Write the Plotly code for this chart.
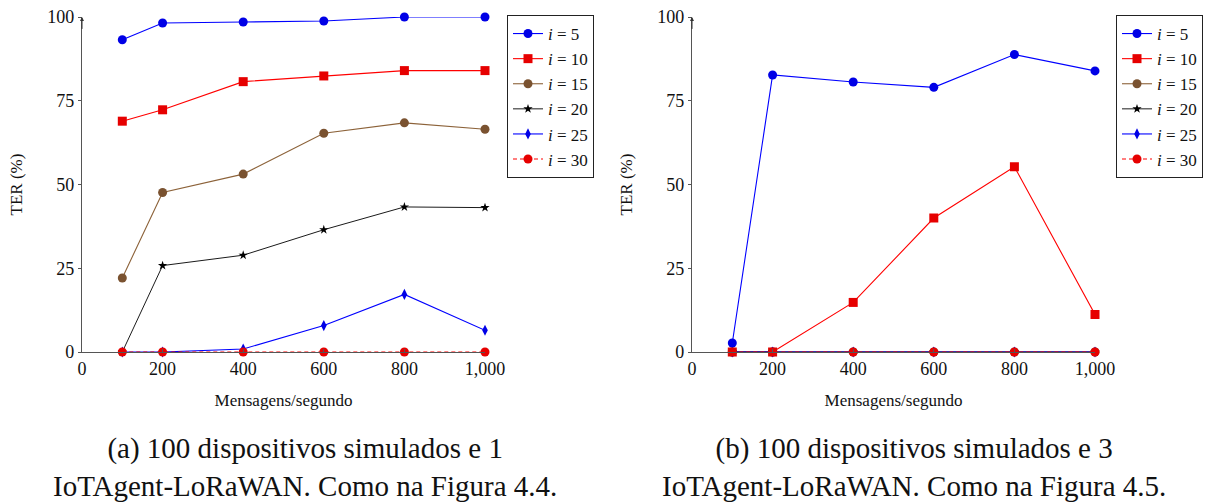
import plotly.graph_objects as go

x_msgs = [100, 200, 400, 600, 800, 1000]
series_names = ["<i>i</i> = 5", "<i>i</i> = 10", "<i>i</i> = 15", "<i>i</i> = 20", "<i>i</i> = 25", "<i>i</i> = 30"]

# (a) 1 IoTAgent
a_i5 = [93.2, 98.2, 98.5, 98.8, 100, 100]
a_i10 = [68.9, 72.3, 80.7, 82.4, 84.0, 84.0]
a_i15 = [22.1, 47.6, 53.1, 65.3, 68.4, 66.5]
a_i20 = [0, 25.8, 28.9, 36.5, 43.3, 43.1]
a_i25 = [0, 0, 0.9, 7.9, 17.2, 6.5]
a_i30 = [0, 0, 0, 0, 0, 0]

# (b) 3 IoTAgents
b_i5 = [2.7, 82.7, 80.6, 79.0, 88.8, 83.9]
b_i10 = [0, 0, 14.8, 40.0, 55.3, 11.2]
b_i15 = [0, 0, 0, 0, 0, 0]
b_i20 = [0, 0, 0, 0, 0, 0]
b_i25 = [0, 0, 0, 0, 0, 0]
b_i30 = [0, 0, 0, 0, 0, 0]

x_ticks = [0, 200, 400, 600, 800, 1000]
x_tick_labels = ["0", "200", "400", "600", "800", "1,000"]
y_ticks = [0, 25, 50, 75, 100]

captions = ["(a) 100 dispositivos simulados e 1<br>IoTAgent-LoRaWAN. Como na Figura 4.4.",
            "(b) 100 dispositivos simulados e 3<br>IoTAgent-LoRaWAN. Como na Figura 4.5."]

styles = [
    dict(line=dict(color="#0000ff", width=1.1), marker=dict(symbol="circle", size=9, color="#0000e6")),
    dict(line=dict(color="#ff0000", width=1.1), marker=dict(symbol="square", size=9, color="#e60000")),
    dict(line=dict(color="#8c6239", width=1.1), marker=dict(symbol="circle", size=9, color="#7a5230")),
    dict(line=dict(color="#000000", width=0.9), marker=dict(symbol="star", size=7, color="#000000")),
    dict(line=dict(color="#0000ff", width=1.1), marker=dict(symbol="diamond-tall", size=8, color="#0000e6")),
    dict(line=dict(color="#ff0000", width=1.1, dash="4px,3px"), marker=dict(symbol="circle", size=9, color="#e60000")),
]

serif = "Liberation Serif"
fig = go.Figure()

panels = [
    ("x", "y", "legend", [a_i5, a_i10, a_i15, a_i20, a_i25, a_i30]),
    ("x2", "y2", "legend2", [b_i5, b_i10, b_i15, b_i20, b_i25, b_i30]),
]
for xa, ya, lg, data in panels:
    for name, vals, st in zip(series_names, data, styles):
        fig.add_trace(go.Scatter(
            x=x_msgs, y=vals, mode="lines+markers", name=name,
            line=st["line"], marker=st["marker"], xaxis=xa, yaxis=ya,
            legend=lg, cliponaxis=False,
        ))

W, H = 1218, 504
dom_y = [1 - 352 / H, 1 - 17 / H]
axcommon_x = dict(range=[0, 1000], tickvals=x_ticks, ticktext=x_tick_labels,
                  showgrid=False, zeroline=False, showline=True, linecolor="#555555",
                  linewidth=1.3, ticks="inside", ticklen=3, tickcolor="#555555",
                  automargin=False,
                  tickfont=dict(family=serif, size=18, color="#111"),
                  title=dict(text="Mensagens/segundo", font=dict(family=serif, size=17, color="#111"), standoff=16))
axcommon_y = dict(range=[0, 100], tickvals=y_ticks, showgrid=False, zeroline=False,
                  showline=True, linecolor="#555555", linewidth=1.3, ticks="outside",
                  ticklen=3, tickcolor="#555555", automargin=False,
                  tickfont=dict(family=serif, size=18, color="#111"),
                  title=dict(text="TER (%)", font=dict(family=serif, size=17, color="#111"), standoff=20))

leg = dict(yanchor="top", xanchor="left", bordercolor="#222", borderwidth=1, bgcolor="white",
           font=dict(family=serif, size=17, color="#111"), tracegroupgap=0, itemwidth=30)

fig.update_layout(
    width=W, height=H,
    margin=dict(l=0, r=0, t=0, b=0, autoexpand=False),
    paper_bgcolor="white", plot_bgcolor="white",
    xaxis=dict(domain=[82 / W, 485 / W], anchor="y", **axcommon_x),
    yaxis=dict(domain=dom_y, anchor="x", **axcommon_y),
    xaxis2=dict(domain=[692 / W, 1095 / W], anchor="y2", **axcommon_x),
    yaxis2=dict(domain=dom_y, anchor="x2", **axcommon_y),
    legend=dict(x=507 / W, y=1 - 15 / H, **leg),
    legend2=dict(x=1116 / W, y=1 - 15 / H, **leg),
    showlegend=True,
)

# arrowheads at top of y axes
for xr, yr in [("x", "y"), ("x2", "y2")]:
    fig.add_annotation(x=0, y=100, xref=xr, yref=yr, ax=0, ay=96, axref=xr, ayref=yr,
                       showarrow=True, arrowhead=2, arrowsize=0.8, arrowwidth=1,
                       arrowcolor="#333", text="")

# captions
for cx, cap in zip([305 / W, 914 / W], captions):
    fig.add_annotation(x=cx, y=1 - 467 / H, xref="paper", yref="paper", text=cap,
                       showarrow=False, xanchor="center", yanchor="middle",
                       font=dict(family=serif, size=29, color="#111"))

fig.write_html("out.html")
